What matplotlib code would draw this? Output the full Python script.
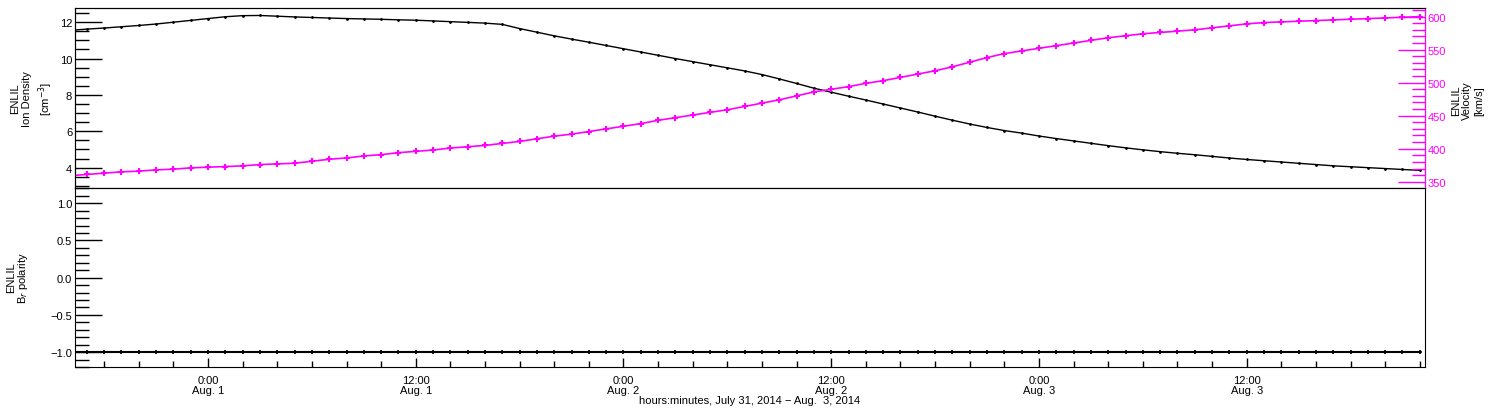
import matplotlib
matplotlib.use('Agg')
import matplotlib.pyplot as plt
import matplotlib.dates as mdates
from matplotlib.ticker import MultipleLocator, FuncFormatter
import pandas as pd
from datetime import datetime

plt.rcParams['font.family'] = ['Liberation Sans', 'DejaVu Sans']
plt.rcParams['font.size'] = 8

# hourly samples, Jul 31 16:00 -> Aug 3 22:00
times = pd.date_range('2014-07-31 16:00', periods=79, freq='1h')

density = [11.55, 11.62, 11.68, 11.75, 11.82, 11.90, 12.00, 12.10, 12.20, 12.30,
           12.36, 12.37, 12.33, 12.29, 12.26, 12.23, 12.20, 12.18, 12.16, 12.13,
           12.11, 12.07, 12.03, 11.99, 11.95, 11.88, 11.65, 11.45, 11.25, 11.07,
           10.90, 10.72, 10.54, 10.36, 10.18, 10.00, 9.83, 9.66, 9.49, 9.32,
           9.12, 8.88, 8.63, 8.37, 8.15, 7.93, 7.72, 7.50, 7.28, 7.06,
           6.83, 6.61, 6.40, 6.21, 6.04, 5.90, 5.74, 5.60, 5.47, 5.34,
           5.21, 5.09, 4.98, 4.88, 4.79, 4.71, 4.62, 4.53, 4.45, 4.38,
           4.31, 4.24, 4.17, 4.10, 4.05, 4.00, 3.95, 3.90, 3.85]

velocity = [359, 361, 363, 365, 366, 368, 369, 371, 372, 373,
            374, 376, 377, 378, 381, 384, 386, 389, 391, 394,
            396, 398, 401, 403, 405, 408, 411, 415, 419, 422,
            426, 430, 434, 438, 443, 447, 451, 455, 459, 464,
            469, 474, 480, 486, 490, 494, 499, 503, 508, 513,
            518, 524, 531, 538, 544, 548, 552, 556, 560, 564,
            568, 571, 574, 576, 578, 580, 583, 586, 589, 591,
            592, 593, 594, 595, 596, 597, 598, 599, 600]

polarity = [-1.0] * len(times)

t_start = datetime(2014, 7, 31, 16, 19)
t_end = datetime(2014, 8, 3, 22, 18)

fig = plt.figure(figsize=(15, 4.1), dpi=100)
ax1 = fig.add_axes([0.05, 0.539, 0.90, 0.439])
ax2 = fig.add_axes([0.05, 0.1024, 0.90, 0.4366], sharex=ax1)
ax1r = ax1.twinx()

mag = '#ff00ff'

ax1.plot(times, density, color='black', lw=1, marker='.', ms=2)
ax1r.plot(times, velocity, color=mag, lw=1.2, marker='+', ms=5, mew=1.5)
ax2.plot(times, polarity, color='black', lw=1.5, marker='+', ms=3, mew=1.2)

ax1.set_ylim(2.88, 12.78)
ax1r.set_ylim(340.5, 613)
ax2.set_ylim(-1.2, 1.205)
ax1.set_xlim(t_start, t_end)

# y ticks
ax1.yaxis.set_major_locator(MultipleLocator(2))
ax1.yaxis.set_minor_locator(MultipleLocator(0.5))
ax1r.yaxis.set_major_locator(MultipleLocator(50))
ax1r.yaxis.set_minor_locator(MultipleLocator(10))
ax2.yaxis.set_major_locator(MultipleLocator(0.5))
ax2.yaxis.set_minor_locator(MultipleLocator(0.1))
ax2.yaxis.set_major_formatter(FuncFormatter(lambda v, p: ('%.1f' % v).replace('-', '\u2212')))

for a in (ax1, ax2):
    a.tick_params(axis='y', which='major', direction='in', length=19.5, width=1, pad=2, labelsize=8)
    a.tick_params(axis='y', which='minor', direction='in', length=10, width=1)
ax1r.tick_params(axis='y', which='major', direction='in', length=19.5, width=1, pad=2,
                 colors=mag, labelsize=8)
ax1r.tick_params(axis='y', which='minor', direction='in', length=9.5, width=1, colors=mag)
ax1r.spines['right'].set_color(mag)

# x ticks
def fmt_time(x, pos):
    d = mdates.num2date(x)
    return '%d:%02d\nAug. %d' % (d.hour, d.minute, d.day)

ax2.xaxis.set_major_locator(mdates.HourLocator(byhour=[0, 12]))
ax2.xaxis.set_minor_locator(mdates.HourLocator(byhour=range(0, 24, 2)))
ax2.xaxis.set_major_formatter(FuncFormatter(fmt_time))
ax2.tick_params(axis='x', which='major', direction='in', length=6.5, width=1, pad=6, labelsize=8)
ax2.tick_params(axis='x', which='minor', direction='in', length=4.3, width=1)
ax1.tick_params(axis='x', which='both', bottom=False, labelbottom=False)
for lab in ax2.get_xticklabels():
    lab.set_linespacing(0.9)

ax2.set_xlabel('hours:minutes, July 31, 2014 \u2212 Aug.  3, 2014', fontsize=8, labelpad=0)

# axis labels
fig.text(15 / 1500, 1 - 99 / 410, 'ENLIL', rotation=90, ha='center', va='center', fontsize=8)
fig.text(27 / 1500, 1 - 99 / 410, 'Ion Density', rotation=90, ha='center', va='center', fontsize=8)
fig.text(46 / 1500, 1 - 99 / 410, '[cm$^{-3}$]', rotation=90, ha='center', va='center', fontsize=8)

fig.text(1456 / 1500, 1 - 101 / 410, 'ENLIL', rotation=90, ha='center', va='center', fontsize=8)
fig.text(1467 / 1500, 1 - 101 / 410, 'Velocity', rotation=90, ha='center', va='center', fontsize=8)
fig.text(1479 / 1500, 1 - 101 / 410, '[km/s]', rotation=90, ha='center', va='center', fontsize=8)

fig.text(11 / 1500, 1 - 278 / 410, 'ENLIL', rotation=90, ha='center', va='center', fontsize=8)
fig.text(23 / 1500, 1 - 278 / 410, 'B$_r$ polarity', rotation=90, ha='center', va='center', fontsize=8)

fig.savefig('out.png', dpi=100)
